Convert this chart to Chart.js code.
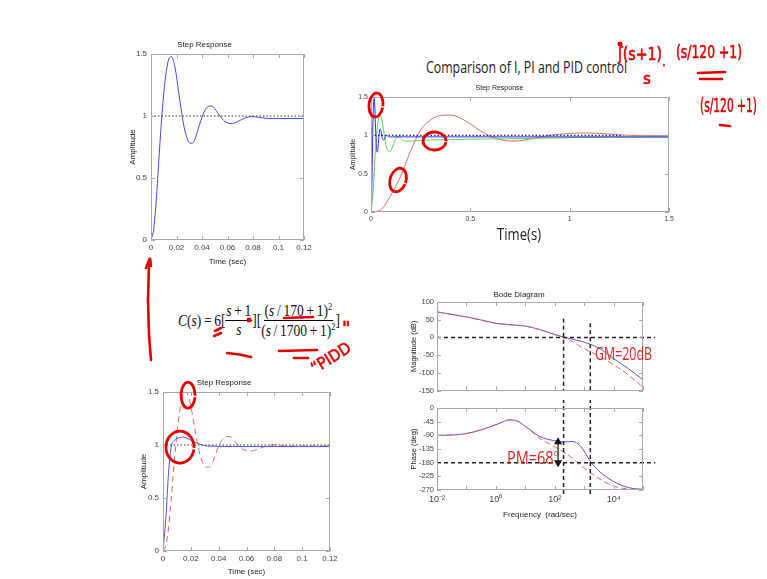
<!DOCTYPE html>
<html><head><meta charset="utf-8">
<script src="https://cdn.jsdelivr.net/npm/chart.js@4.4.1/dist/chart.umd.min.js"></script>
<style>
html,body{margin:0;padding:0;background:#fff;}
body{width:767px;height:579px;position:relative;overflow:hidden;}
.box{position:absolute;}
.slide{position:absolute;white-space:nowrap;transform-origin:left top;line-height:1;}
.frac{display:inline-flex;flex-direction:column;align-items:center;vertical-align:middle;}
.frac>span:first-child{border-bottom:1px solid #000;padding:0 1px 1px 1px;}
.frac>span:last-child{padding-top:1px;}
#formula sup{font-size:10px;}
</style></head><body>
<div class="box" style="left:105px;top:28px;width:215px;height:250px"><canvas id="cA" width="215" height="250"></canvas></div>
<div class="box" style="left:330px;top:78px;width:350px;height:170px"><canvas id="cB" width="350" height="170"></canvas></div>
<div class="box" style="left:118px;top:366px;width:225px;height:213px"><canvas id="cC" width="225" height="213"></canvas></div>
<div class="box" style="left:395px;top:282px;width:265px;height:116px"><canvas id="cM" width="265" height="116"></canvas></div>
<div class="box" style="left:395px;top:400px;width:265px;height:130px"><canvas id="cP" width="265" height="130"></canvas></div>

<div class="slide fit" data-w="201" style="left:426px;top:59px;font-family:'Open Sans';font-size:16px;color:#222">Comparison of I, PI and PID control</div>
<div class="slide fit" data-w="44" style="left:497px;top:225px;font-family:'Open Sans';font-size:17px;color:#222">Time(s)</div>
<div class="slide fit" data-w="57" style="left:595px;top:344px;font-family:'Open Sans';font-size:18px;color:#dd2222">GM=20dB</div>
<div class="slide fit" data-w="51" style="left:507px;top:448px;font-family:'Open Sans';font-size:18px;color:#dd2222">PM=68<span style="font-size:9px;vertical-align:top">o</span></div>

<div id="formula" class="slide fit" data-w="162" style="left:178px;top:302px;font-family:'Liberation Serif';font-size:16px;color:#111;display:flex;align-items:center">
<span><i>C</i>(<i>s</i>)&#8201;=&#8201;6[</span><span class="frac"><span><i>s</i>&#8201;+&#8201;1</span><span><i>s</i></span></span><span>][</span><span class="frac"><span>(<i>s</i>&#8201;/&#8201;170&#8201;+&#8201;1)<sup>2</sup></span><span>(<i>s</i>&#8201;/&#8201;1700&#8201;+&#8201;1)<sup>2</sup></span></span><span>]</span>
</div>

<svg style="position:absolute;left:0;top:0" width="767" height="579">
<g fill="none" stroke="#e00000" stroke-width="2.6" stroke-linecap="round">
<path d="M149 264 L148 300 L149 335 L151 360"/>
<path d="M146 268 L150 258 L151 266"/>
<path d="M215 331 L221 328"/><path d="M214 336 L221 333"/>
<path d="M284 318 L313 317"/>
<path d="M227 353 Q240 354 251 357"/>
<path d="M279 351 L317 350"/><path d="M294 358 L308 358"/>
<path d="M698 73 L725 72"/><path d="M700 79 L722 79"/>
<path d="M720 125 L730 126"/>
</g>
<circle cx="249" cy="320" r="2.5" fill="#e00000"/>
<circle cx="620" cy="44" r="2.5" fill="#e00000"/>
<g fill="#e00000" font-family="DejaVu Sans" stroke="#e00000" stroke-width="0.6">
<text x="315" y="374" font-size="16" textLength="44" lengthAdjust="spacingAndGlyphs" transform="rotate(-32 315 374)">“PIDD</text>
<text x="342" y="334" font-size="18">"</text>
<text x="618" y="60" font-size="18" textLength="44" lengthAdjust="spacingAndGlyphs">ʃ(s+1)</text>
<text x="662" y="66" font-size="12">.</text>
<text x="643" y="84" font-size="15">s</text>
<text x="676" y="58" font-size="18" textLength="66" lengthAdjust="spacingAndGlyphs">(s/120 +1)</text>
<text x="700" y="112" font-size="19" textLength="57" lengthAdjust="spacingAndGlyphs">(s/120 +1)</text>
</g>
</svg>

<script>
// ---------- data ----------
// PID step response (top-left chart; blue curve in comparison chart)
const pidTime = [0,0.002,0.004,0.006,0.008,0.010,0.012,0.014,0.016,0.018,0.020,0.022,0.024,0.026,0.028,0.030,0.032,0.034,0.036,0.038,0.040,0.042,0.044,0.046,0.048,0.050,0.052,0.054,0.056,0.058,0.060,0.062,0.064,0.066,0.068,0.070,0.072,0.074,0.076,0.078,0.080,0.084,0.088,0.092,0.096,0.100,0.110,0.120];
const pidAmp  = [0,0.08,0.30,0.62,0.93,1.18,1.36,1.46,1.48,1.43,1.32,1.17,1.03,0.91,0.83,0.785,0.78,0.80,0.86,0.93,0.99,1.04,1.07,1.08,1.08,1.06,1.03,1.00,0.975,0.955,0.945,0.94,0.94,0.945,0.955,0.965,0.975,0.985,0.99,0.995,0.995,0.99,0.985,0.98,0.98,0.98,0.98,0.98];
const pidTailTime = [0.2,0.4,0.7,1.0,1.3,1.5];
const pidTailAmp  = [0.98,0.98,0.98,0.98,0.98,0.98];
// PI controller (green)
const piTime = [0,0.01,0.02,0.03,0.04,0.045,0.05,0.06,0.07,0.08,0.09,0.10,0.11,0.12,0.13,0.14,0.15,0.16,0.18,0.20,0.25,0.30,0.40,0.50,0.70,0.90,1.00,1.20,1.50];
const piAmp  = [0,0.25,0.70,1.05,1.24,1.265,1.25,1.12,0.95,0.83,0.79,0.80,0.86,0.93,0.975,0.98,0.96,0.94,0.92,0.925,0.935,0.94,0.945,0.95,0.955,0.965,0.97,0.975,0.975];
// I controller (red)
const iTime = [0,0.05,0.10,0.15,0.20,0.25,0.30,0.35,0.40,0.45,0.50,0.55,0.60,0.65,0.70,0.75,0.80,0.85,0.90,0.95,1.00,1.05,1.10,1.15,1.20,1.30,1.40,1.50];
const iAmp  = [0,0.03,0.22,0.47,0.80,1.07,1.20,1.26,1.265,1.225,1.15,1.06,0.99,0.945,0.925,0.93,0.95,0.975,1.00,1.015,1.025,1.03,1.03,1.025,1.015,1.00,0.995,0.995];
// bottom-left chart: PIDD (blue solid) vs PID (red dashed)
const piddTime = [0,0.002,0.004,0.006,0.008,0.010,0.012,0.014,0.016,0.018,0.020,0.022,0.024,0.026,0.028,0.030,0.032,0.034,0.040,0.050,0.060,0.080,0.100,0.120];
const piddAmp  = [0,0.30,0.74,0.99,1.04,1.06,1.07,1.075,1.07,1.06,1.045,1.03,1.02,1.01,1.00,0.995,0.99,0.99,0.987,0.985,0.985,0.985,0.985,0.985];
const pidAmpC  = [0,0.05,0.22,0.50,0.82,1.10,1.32,1.45,1.50,1.47,1.37,1.22,1.07,0.94,0.85,0.80,0.79,0.80,0.85,0.92,0.99,1.04,1.07,1.08,1.08,1.06,1.03,1.00,0.975,0.955,0.95,0.945,0.945,0.95,0.96,0.97,0.98,0.99,0.995,1.00,1.00,0.995,0.99,0.99,0.99,0.99,0.99,0.99];
const unitLevelA = [[0,1],[0.12,1]];
const unitLevelB = [[0,1],[1.27,1]];
// Bode diagram
const bodeFreq  = [0.01,0.0316,0.1,0.316,1,1.78,2.82,5.62,10,31.6,100,200,398,794,1585,3162,10000,31623,100000];
const magPIDD   = [72,65,58,49,40,37.5,36,34,32,22,8,1,-5,-11,-19,-30,-60,-88,-120];
const magPID    = [72,65,58,49,40,37.5,36,34,32,22,8,0,-12,-27,-40,-52,-77,-106,-141];
const phasePIDD = [-90,-89,-84,-72,-55,-45,-39,-44,-60,-94,-108,-112,-110,-128,-174,-207,-242,-262,-268];
const phasePID  = [-90,-89,-84,-72,-55,-45,-39,-44,-60,-100,-128,-145,-165,-190,-212,-232,-257,-267,-270];
const gainCrossFreq = 200, phaseCrossFreq = 1620, pmFreq = 130;
const zeroDb = [[0.01,0],[260000,0]];
const minus180 = [[0.01,-180],[260000,-180]];
const vLineMag1 = [[gainCrossFreq,53],[gainCrossFreq,-150]];
const vLineMag2 = [[phaseCrossFreq,40],[phaseCrossFreq,-150]];
const vLinePh1 = [[gainCrossFreq,30],[gainCrossFreq,-290]];
const vLinePh2 = [[phaseCrossFreq,30],[phaseCrossFreq,-290]];
const pmArrow = [[pmFreq,-112],[pmFreq,-180]];
// tick labels
const timeTicksA = ['0','0.02','0.04','0.06','0.08','0.1','0.12'];
const ampTicks = ['0','0.5','1','1.5'];
const timeTicksB = ['0','0.5','1','1.5'];
const magTicks = ['-150','-100','-50','0','50','100'];
const phaseTicks = ['-270','-225','-180','-135','-90','-45','0'];
const freqExp = [-2,-1,0,1,2,3,4,5];
const freqTicks = ['10\u207B\u00B2','','10\u2070','','10\u00B2','','10\u2074',''];
// hand-drawn circle annotations (data positions)
const circlesB = [[0.025,1.396],[0.32,0.926],[0.136,0.417]];
const circlesC = [[0.018,1.47],[0.0122,0.98]];

// ---------- helpers ----------
const FONT = "'Liberation Sans',Arial,sans-serif";
const pts = (xs, ys) => xs.map((x,i)=>({x, y:ys[i]}));
const pairs = a => a.map(p=>({x:p[0], y:p[1]}));

const framePlugin = {
  id:'frame',
  afterDatasetsDraw(chart, args, o){
    const {ctx, chartArea:{left,right,top,bottom}, scales:{x,y}} = chart;
    ctx.save();
    ctx.strokeStyle = o.color || '#aaa'; ctx.lineWidth = 1;
    ctx.strokeRect(Math.round(left)+0.5, Math.round(top)+0.5, Math.round(right-left)-1, Math.round(bottom-top)-1);
    ctx.beginPath();
    const L = 4;
    x.ticks.forEach(t=>{ const p = Math.round(x.getPixelForValue(t.value))+0.5; if(p<left-1||p>right+1) return;
      ctx.moveTo(p,bottom); ctx.lineTo(p,bottom-L); ctx.moveTo(p,top); ctx.lineTo(p,top+L); });
    y.ticks.forEach(t=>{ const p = Math.round(y.getPixelForValue(t.value))+0.5; if(p<top-1||p>bottom+1) return;
      ctx.moveTo(left,p); ctx.lineTo(left+L,p); ctx.moveTo(right,p); ctx.lineTo(right-L,p); });
    ctx.stroke();
    ctx.restore();
  }
};
const ellipsePlugin = {
  id:'ellipses',
  afterDraw(chart, args, o){
    if(!o || !o.items) return;
    const {ctx, scales:{x,y}} = chart;
    ctx.save(); ctx.strokeStyle = o.color; ctx.lineWidth = o.width;
    o.items.forEach((c,i)=>{ const r = o.radii[i];
      ctx.beginPath(); ctx.ellipse(x.getPixelForValue(c[0]), y.getPixelForValue(c[1]), r[0], r[1], r[2]||0, 0.15, Math.PI*2+0.05); ctx.stroke(); });
    ctx.restore();
  }
};

function makeChart(id, c){
  const tf = c.tickSize;
  return new Chart(document.getElementById(id), {
    type:'line',
    data:{datasets:c.datasets},
    options:{
      responsive:false, animation:false, devicePixelRatio:1,
      layout:{padding:{left:0,right:c.padRight,top:c.padTop||0,bottom:0}},
      elements:{point:{radius:0}, line:{borderWidth:1, cubicInterpolationMode:'monotone'}},
      plugins:{
        legend:{display:false}, tooltip:{enabled:false},
        title:{display:!!c.title, text:c.title||'', color:'#222', font:{family:FONT,size:c.titleSize,weight:'normal'}, padding:{top:c.titlePad?c.titlePad[0]:0,bottom:c.titlePad?c.titlePad[1]:0}},
        frame:{color:'#a8a8a8'},
        ellipses:c.ellipses||{}
      },
      scales:{
        x:{
          type:c.xType||'linear', min:c.xMin, max:c.xMax,
          afterFit:s=>{s.height=c.xAxisH;},
          afterBuildTicks:c.xTicks? (s=>{s.ticks=c.xTicks.map(v=>({value:v}));}) : undefined,
          grid:{display:false, drawTicks:false}, border:{display:false},
          ticks:{display:c.xTickShow!==false, stepSize:c.xStep, autoSkip:false, maxRotation:0, padding:c.xTickPad, color:'#444', font:{family:FONT,size:c.xTickSize||tf},
                 callback:(v,i)=>c.xLabels[i]},
          title:{display:!!c.xTitle, text:c.xTitle||'', color:'#222', font:{family:FONT,size:c.xTitleSize||tf}, padding:{top:0,bottom:c.xTitlePad||0}}
        },
        y:{
          type:'linear', min:c.yMin, max:c.yMax,
          afterFit:s=>{s.width=c.yAxisW;},
          grid:{display:false, drawTicks:false}, border:{display:false},
          ticks:{stepSize:c.yStep, autoSkip:false, padding:c.yTickPad, color:'#444', font:{family:FONT,size:tf},
                 callback:(v,i)=>c.yLabels[i]},
          title:{display:true, text:c.yTitle, color:'#222', font:{family:FONT,size:c.yTitleSize||tf}, padding:{top:c.yTitlePad,bottom:0}}
        }
      }
    },
    plugins:[framePlugin, ellipsePlugin]
  });
}

const BLUE='#4646dc', RED='#e06464', GREEN='#5ccf5c';
const dotted = (data,color,w)=>({data, borderColor:color, borderWidth:w||1, borderDash:[1.5,2], cubicInterpolationMode:'default', tension:0});

// Chart A
makeChart('cA', {
  datasets:[ dotted(pairs(unitLevelA),'#333'), {data:pts(pidTime,pidAmp), borderColor:BLUE} ],
  xMin:0, xMax:0.12, xStep:0.02, yMin:0, yMax:1.5, yStep:0.5,
  xLabels:timeTicksA, yLabels:ampTicks, tickSize:8,
  title:'Step Response', titleSize:8, titlePad:[11.6,4.8],
  xTitle:'Time (sec)', xTitlePad:11.2, xAxisH:38, xTickPad:3,
  yTitle:'Amplitude', yTitlePad:23.2, yAxisW:46, yTickPad:4, padRight:16
});

// Chart B
makeChart('cB', {
  datasets:[
    dotted(pairs(unitLevelB),'#2a2aa0',1.4),
    {data:pts(pidTime.concat(pidTailTime), pidAmp.concat(pidTailAmp)), borderColor:'#2b2be6'},
    {data:pts(piTime,piAmp), borderColor:GREEN},
    {data:pts(iTime,iAmp), borderColor:'#e06a6a'}
  ],
  xMin:0, xMax:1.5, xStep:0.5, yMin:0, yMax:1.5, yStep:0.5,
  xLabels:timeTicksB, yLabels:ampTicks, tickSize:7,
  title:'Step Response', titleSize:7, titlePad:[6,4.6],
  xAxisH:36, xTickPad:3,
  yTitle:'Amplitude', yTitlePad:18.8, yAxisW:41, yTickPad:3, padRight:11,
  ellipses:{items:circlesB, radii:[[7,12,0.1],[11.5,9,0],[8,12,0.3]], color:'#e00000', width:2.8}
});

// Chart C
makeChart('cC', {
  datasets:[
    dotted(pairs(unitLevelA),'#333'),
    {data:pts(piddTime,piddAmp), borderColor:'#5050e0'},
    {data:pts(pidTime,pidAmpC), borderColor:RED, borderDash:[6,4]}
  ],
  xMin:0, xMax:0.12, xStep:0.02, yMin:0, yMax:1.5, yStep:0.5,
  xLabels:timeTicksA, yLabels:ampTicks, tickSize:8,
  title:'Step Response', titleSize:8, titlePad:[11.9,4.5],
  xTitle:'Time (sec)', xTitlePad:2.2, xAxisH:28, xTickPad:3,
  yTitle:'Amplitude', yTitlePad:20.5, yAxisW:45, yTickPad:4, padRight:13,
  ellipses:{items:circlesC, radii:[[7,13,0],[14,16,0]], color:'#e00000', width:2.8}
});

// Bode magnitude
const blackDash = (data)=>({data, borderColor:'#222', borderWidth:1.5, borderDash:[4,3], clip:false, tension:0, cubicInterpolationMode:'default'});
const logTicks = freqExp.map(e=>Math.pow(10,e));
makeChart('cM', {
  datasets:[
    blackDash(pairs(zeroDb)), blackDash(pairs(vLineMag1)), blackDash(pairs(vLineMag2)),
    {data:pts(bodeFreq,magPID), borderColor:RED, borderDash:[6,3]},
    {data:pts(bodeFreq,magPIDD), borderColor:'#5555dd'}
  ],
  xType:'logarithmic', xMin:0.01, xMax:100000, xTicks:logTicks, xTickShow:false,
  yMin:-150, yMax:100, yStep:50,
  xLabels:freqTicks, yLabels:magTicks, tickSize:7.5,
  title:'Bode Diagram', titleSize:8, titlePad:[8.2,2.2],
  xAxisH:0, xTickPad:0,
  yTitle:'Magnitude (dB)', yTitlePad:14.5, yAxisW:42, yTickPad:3, padRight:17
});

// Bode phase
makeChart('cP', {
  datasets:[
    blackDash(pairs(minus180)), blackDash(pairs(vLinePh1)), blackDash(pairs(vLinePh2)),
    {data:pairs(pmArrow), borderColor:'#111', borderWidth:1.2, pointRadius:3.5, pointStyle:'triangle', pointRotation:[0,180], pointBackgroundColor:'#111', pointBorderColor:'#111', tension:0, cubicInterpolationMode:'default'},
    {data:pts(bodeFreq,phasePID), borderColor:RED, borderDash:[6,3]},
    {data:pts(bodeFreq,phasePIDD), borderColor:'#5555dd'}
  ],
  xType:'logarithmic', xMin:0.01, xMax:100000, xTicks:logTicks,
  yMin:-270, yMax:0, yStep:45,
  xLabels:freqTicks, yLabels:phaseTicks, tickSize:7.5, xTickSize:9, padTop:8,
  xTitle:'Frequency  (rad/sec)', xTitlePad:10.2, xTitleSize:8, xAxisH:40, xTickPad:4,
  yTitle:'Phase (deg)', yTitlePad:14.5, yAxisW:42, yTickPad:3, padRight:17
});

// fit slide texts to their widths
document.querySelectorAll('.fit').forEach(el=>{
  const w = +el.dataset.w; const r = el.getBoundingClientRect().width;
  if(w && r) el.style.transform = 'scaleX(' + (w/r) + ')';
});
</script>
</body></html>
